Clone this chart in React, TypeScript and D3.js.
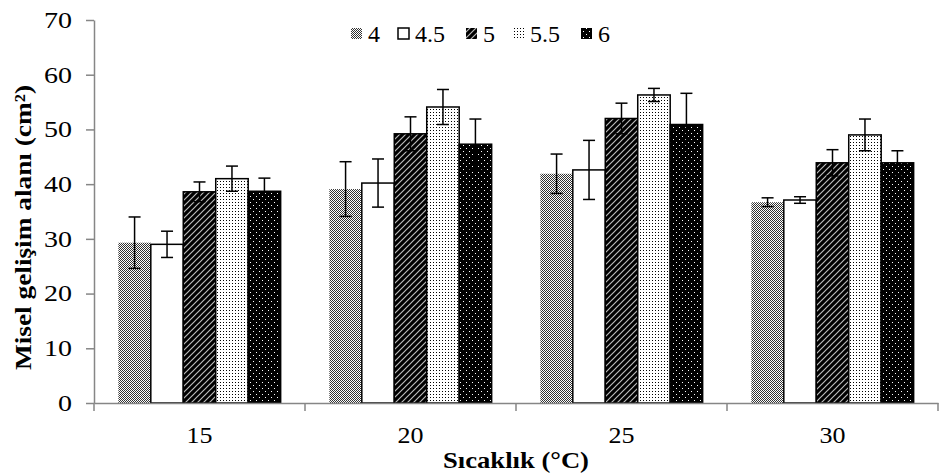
import React, { useEffect, useRef } from "react";
import * as d3 from "d3";

const categories = ["15", "20", "25", "30"];
const series = ["4", "4.5", "5", "5.5", "6"];

// mean values per series, in category order
const values: number[][] = [
  [29.3, 39.1, 41.9, 36.7],
  [29.0, 40.2, 42.6, 37.1],
  [38.6, 49.2, 52.0, 43.9],
  [41.0, 54.1, 56.3, 49.0],
  [38.7, 47.3, 50.9, 43.9],
];

// standard errors
const errors: number[][] = [
  [4.7, 5.0, 3.6, 0.8],
  [2.4, 4.4, 5.4, 0.6],
  [1.8, 3.1, 2.8, 2.4],
  [2.3, 3.2, 1.2, 2.9],
  [2.4, 4.6, 5.7, 2.2],
];

const yTicks = [0, 10, 20, 30, 40, 50, 60, 70];

const patternIds = ["p4", "p45", "p5", "p55", "p6"];

export default function App() {
  const ref = useRef<SVGSVGElement>(null);

  useEffect(() => {
    const width = 945;
    const height = 476;
    const margin = { top: 20, right: 7, bottom: 73, left: 94 };
    const font = "Liberation Serif, Tinos, DejaVu Serif, serif";
    const axisColor = "#868686";

    const svg = d3.select(ref.current);
    svg.selectAll("*").remove();
    svg.attr("width", width).attr("height", height).attr("font-family", font);

    // patterns
    const defs = svg.append("defs");

    const p4 = defs.append("pattern").attr("id", "p4").attr("patternUnits", "userSpaceOnUse")
      .attr("width", 2).attr("height", 2);
    p4.append("rect").attr("width", 2).attr("height", 2).attr("fill", "#ffffff");
    p4.append("rect").attr("x", 0).attr("y", 0).attr("width", 1).attr("height", 1).attr("fill", "#333");
    p4.append("rect").attr("x", 1).attr("y", 1).attr("width", 1).attr("height", 1).attr("fill", "#333");

    const p45 = defs.append("pattern").attr("id", "p45").attr("patternUnits", "userSpaceOnUse")
      .attr("width", 4).attr("height", 4);
    p45.append("rect").attr("width", 4).attr("height", 4).attr("fill", "#fff");

    const p5 = defs.append("pattern").attr("id", "p5").attr("patternUnits", "userSpaceOnUse")
      .attr("width", 6).attr("height", 6);
    p5.append("rect").attr("width", 6).attr("height", 6).attr("fill", "#000");
    p5.append("path").attr("d", "M0,6L6,0M-1,1L1,-1M5,7L7,5")
      .attr("stroke", "#bbb").attr("stroke-width", 1.2);

    const p55 = defs.append("pattern").attr("id", "p55").attr("patternUnits", "userSpaceOnUse")
      .attr("width", 3).attr("height", 3);
    p55.append("rect").attr("width", 3).attr("height", 3).attr("fill", "#fff");
    p55.append("rect").attr("x", 1).attr("y", 1).attr("width", 1).attr("height", 1).attr("fill", "#000");

    const p6 = defs.append("pattern").attr("id", "p6").attr("patternUnits", "userSpaceOnUse")
      .attr("width", 6).attr("height", 6);
    p6.append("rect").attr("width", 6).attr("height", 6).attr("fill", "#000");
    p6.append("rect").attr("x", 1).attr("y", 1).attr("width", 1).attr("height", 1).attr("fill", "#fff");
    p6.append("rect").attr("x", 4).attr("y", 4).attr("width", 1).attr("height", 1).attr("fill", "#fff");

    const x0 = d3.scaleBand().domain(categories)
      .range([margin.left, width - margin.right]).paddingInner(0).paddingOuter(0);
    const x1 = d3.scaleBand().domain(series)
      .range([0, x0.bandwidth()]).paddingInner(0).paddingOuter(0.75);
    const y = d3.scaleLinear().domain([0, 70]).range([height - margin.bottom, margin.top]);

    // bars
    series.forEach((s, si) => {
      const g = svg.append("g");
      g.selectAll("rect").data(categories).enter().append("rect")
        .attr("x", (c) => (x0(c) as number) + (x1(s) as number))
        .attr("y", (c, ci) => y(values[si][ci]))
        .attr("width", x1.bandwidth())
        .attr("height", (c, ci) => y(0) - y(values[si][ci]))
        .attr("fill", `url(#${patternIds[si]})`)
        .attr("stroke", si === 0 ? "none" : "#000")
        .attr("stroke-width", 1.5);
    });

    // error bars
    series.forEach((s, si) => {
      const g = svg.append("g").attr("stroke", "#000").attr("stroke-width", 1.5);
      categories.forEach((c, ci) => {
        const cx = (x0(c) as number) + (x1(s) as number) + x1.bandwidth() / 2;
        const lo = y(values[si][ci] - errors[si][ci]);
        const hi = y(values[si][ci] + errors[si][ci]);
        g.append("line").attr("x1", cx).attr("x2", cx).attr("y1", lo).attr("y2", hi);
        g.append("line").attr("x1", cx - 6).attr("x2", cx + 6).attr("y1", lo).attr("y2", lo);
        g.append("line").attr("x1", cx - 6).attr("x2", cx + 6).attr("y1", hi).attr("y2", hi);
      });
    });

    // y axis
    const gy = svg.append("g")
      .attr("transform", `translate(${margin.left},0)`)
      .call(d3.axisLeft(y).tickValues(yTicks).tickSize(8).tickSizeOuter(0).tickPadding(14));
    gy.attr("font-family", font);
    gy.select(".domain").attr("stroke", axisColor).attr("stroke-width", 1.5);
    gy.selectAll(".tick line").attr("stroke", axisColor).attr("stroke-width", 1.5);
    gy.selectAll<SVGTextElement, number>(".tick text").attr("fill", "#000").attr("font-size", 23)
      .attr("textLength", (d) => String(d).length * 14).attr("lengthAdjust", "spacingAndGlyphs");

    // x axis
    const gx = svg.append("g")
      .attr("transform", `translate(0,${y(0)})`)
      .call(d3.axisBottom(x0).tickSize(0).tickSizeOuter(0).tickPadding(24));
    gx.attr("font-family", font);
    gx.select(".domain").attr("stroke", axisColor).attr("stroke-width", 1.5);
    gx.selectAll(".tick text").attr("fill", "#000").attr("font-size", 23)
      .attr("textLength", 26).attr("lengthAdjust", "spacingAndGlyphs");
    const bounds = categories.map((c) => x0(c) as number).concat([x0.range()[1]]);
    gx.selectAll(".sep").data(bounds).enter().append("line")
      .attr("class", "sep")
      .attr("x1", (d) => d).attr("x2", (d) => d)
      .attr("y1", 0).attr("y2", 8)
      .attr("stroke", axisColor).attr("stroke-width", 1.5);

    // axis titles
    svg.append("text")
      .attr("transform", `translate(31,${(margin.top + y(0)) / 2 + 16}) rotate(-90)`)
      .attr("text-anchor", "middle")
      .attr("font-size", 23).attr("font-weight", "bold")
      .attr("textLength", 285).attr("lengthAdjust", "spacingAndGlyphs")
      .text("Misel gelişim alanı (cm²)");

    svg.append("text")
      .attr("x", (margin.left + width - margin.right) / 2)
      .attr("y", 468)
      .attr("text-anchor", "middle")
      .attr("font-size", 23).attr("font-weight", "bold")
      .attr("textLength", 146).attr("lengthAdjust", "spacingAndGlyphs")
      .text("Sıcaklık (°C)");

    // legend
    const legendX = [351, 398, 466, 513, 581];
    const lg = svg.append("g");
    series.forEach((s, si) => {
      lg.append("rect")
        .attr("x", legendX[si]).attr("y", 28).attr("width", 11).attr("height", 11)
        .attr("fill", `url(#${patternIds[si]})`)
        .attr("stroke", si === 1 ? "#000" : "none").attr("stroke-width", 1.5);
      lg.append("text")
        .attr("x", legendX[si] + 17).attr("y", 42)
        .attr("font-size", 24)
        .text(s);
    });
  }, []);

  return (
    <div>
      <svg ref={ref} style={{ position: "absolute", left: 0, top: 0 }}></svg>
    </div>
  );
}
